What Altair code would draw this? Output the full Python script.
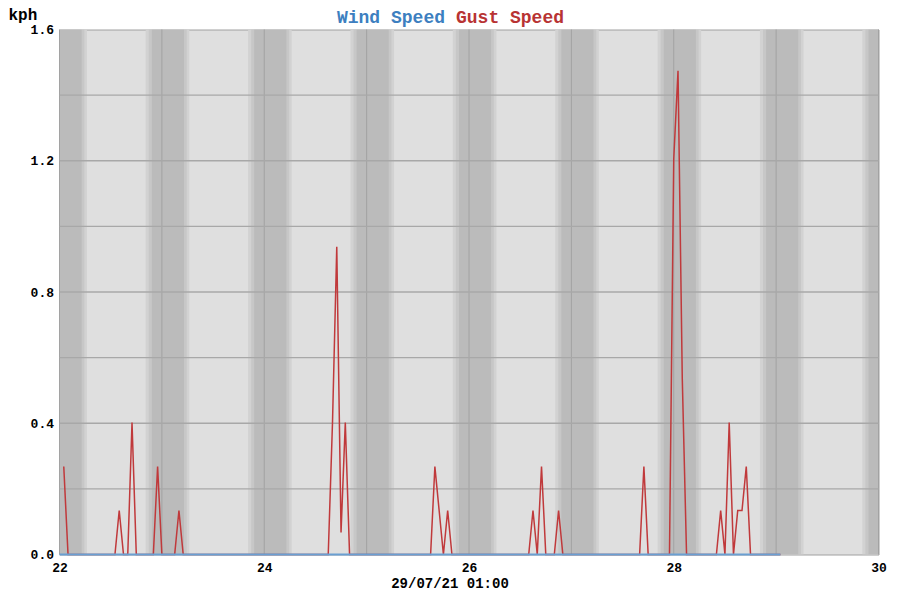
import altair as alt
import pandas as pd

# ---- data (hours after 22/07/21 00:00) ----
gust_hours = [1, 2, 13, 14, 15, 16, 17, 18, 22, 23, 24, 27, 28, 29,
              63, 64, 65, 66, 67, 68, 87, 88, 89, 90, 91, 92,
              110, 111, 112, 113, 114, 116, 117, 118, 136, 137, 138,
              143, 144, 145, 146, 147, 154, 155, 156, 157, 158, 159, 160, 161, 162, 169]
gust_kph = [0.268, 0, 0, 0.134, 0, 0, 0.402, 0, 0, 0.268, 0, 0, 0.134, 0,
            0, 0.402, 0.938, 0.067, 0.402, 0, 0, 0.268, 0.134, 0, 0.134, 0,
            0, 0.134, 0, 0.268, 0, 0, 0.134, 0, 0, 0.268, 0,
            0, 1.206, 1.474, 0.536, 0, 0, 0.134, 0, 0.402, 0, 0.134, 0.134, 0.268, 0, 0]
wind_hours = [0, 169]
wind_kph = [0, 0]

night_days = [22, 23, 24, 25, 26, 27, 28, 29, 30]
x_ticks = [22, 23, 24, 25, 26, 27, 28, 29, 30]
y_ticks = [0.2, 0.4, 0.6, 0.8, 1.0, 1.2, 1.4]
x_labels = [22, 24, 26, 28, 30]
y_labels = [0.0, 0.4, 0.8, 1.2, 1.6]

# ---- tables ----
gust = pd.DataFrame({"day": [22 + h / 24 for h in gust_hours], "kph": gust_kph})
wind = pd.DataFrame({"day": [22 + h / 24 for h in wind_hours], "kph": wind_kph})

shades = [("#d2d2d2", -0.158, 0.268), ("#c7c7c7", -0.128, 0.243), ("#bbbbbb", -0.098, 0.216)]
rows = []
for col, a, b in shades:
    for d in night_days:
        rows.append({"x": d + a, "x2": d + b, "shade": col})
bands = pd.DataFrame(rows)

W, H = 819, 525
FONT = "Liberation Mono"

xscale = alt.Scale(domain=[22, 30], nice=False, zero=False)
yscale = alt.Scale(domain=[0, 1.6], nice=False, zero=True)

xaxis = alt.Axis(values=x_labels, format="d", grid=False, ticks=False, domain=False,
                 labelFont=FONT, labelFontSize=13, labelFontWeight="bold", labelColor="#000",
                 labelPadding=7, labelFlush=False, title="")
yaxis = alt.Axis(values=y_labels, format=".1f", grid=False, ticks=False, domain=False,
                 labelFont=FONT, labelFontSize=13, labelFontWeight="bold", labelColor="#000",
                 labelPadding=6, labelFlush=False, title="")

band_layer = alt.Chart(bands).mark_rect(clip=True).encode(
    x=alt.X("x:Q", scale=xscale, axis=xaxis),
    x2="x2:Q",
    color=alt.Color("shade:N", scale=None),
)

vgrid = alt.Chart(pd.DataFrame({"d": x_ticks})).mark_rule(color="#a2a2a2", strokeWidth=1).encode(
    x=alt.X("d:Q", scale=xscale)
)
hgrid = alt.Chart(pd.DataFrame({"v": y_ticks})).mark_rule(color="#a8a8a8", strokeWidth=1.3).encode(
    y=alt.Y("v:Q", scale=yscale, axis=yaxis)
)

gust_line = alt.Chart(gust).mark_line(color="#c0393b", strokeWidth=1.5).encode(
    x=alt.X("day:Q", scale=xscale),
    y=alt.Y("kph:Q", scale=yscale),
)
wind_line = alt.Chart(wind).mark_line(color="#6a9fd2", strokeWidth=2).encode(
    x=alt.X("day:Q", scale=xscale),
    y=alt.Y("kph:Q", scale=yscale),
)

def label(txt, x, y, color, size, align):
    return alt.Chart(pd.DataFrame({"t": [txt]})).mark_text(
        font=FONT, fontSize=size, fontWeight="bold", color=color, align=align, baseline="alphabetic"
    ).encode(text="t:N", x=alt.value(x), y=alt.value(y))

t1 = label("Wind Speed", 385.5, -7, "#3d7fc0", 18, "right")
t2 = label("Gust Speed", 396.5, -7, "#b83333", 18, "left")
t3 = label("kph", -51, -9.5, "#000000", 16, "left")
t4 = label("29/07/21 01:00", 390.5, 558, "#000000", 14, "center")

chart = alt.layer(band_layer, vgrid, hgrid, gust_line, wind_line, t1, t2, t3, t4).properties(
    width=W, height=H,
    padding={"left": 51.5, "top": 21.5, "right": 13, "bottom": 37.5},
    autosize="none",
).configure_view(fill="#dfdfdf", stroke="#a0a0a0", strokeWidth=1)

chart.save("out.html", embed_options={"renderer": "svg", "actions": False})
